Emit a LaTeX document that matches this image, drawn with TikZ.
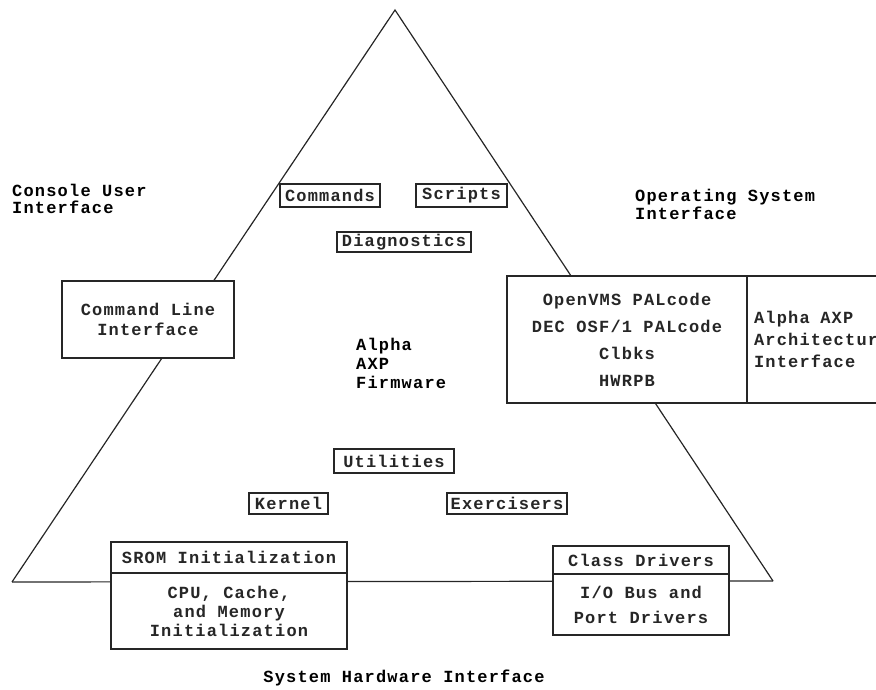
\documentclass[tikz,border=0pt]{standalone}
\usepackage{fontspec}
\setmainfont{Liberation Mono}[LetterSpace=7]
\begin{document}
\begin{tikzpicture}[x=1pt,y=-1pt,
  fnt/.style={font=\fontsize{17}{#1}\selectfont\bfseries},
  every node/.style={fnt=17},
  ln/.style={line width=1.2pt, black!85},
  box/.style={draw, ln, fill=white, inner sep=0pt, outer sep=0pt, align=center},
  tag/.style={box, minimum height=22pt},
  lbl/.style={inner sep=0pt, align=left, anchor=west}]
\useasboundingbox (0,0) rectangle (876,690);
% triangle
\coordinate (apex) at (395,10);
\coordinate (lc) at (12,582);
\coordinate (rc) at (773,581);
\draw[ln, line join=miter] (lc) -- (apex) -- (rc);
\draw[ln] (lc) -- (rc);
% outside labels
\node[lbl] (cui) at (12,199) {Console User\\Interface};
\node[lbl, fnt=18] (osi) at (635,204) {Operating System\\Interface};
\node[inner sep=0pt] (shi) at (404,678) {System Hardware Interface};
\node[lbl, fnt=19] (fw) at (356,363) {Alpha\\AXP\\Firmware};
% small tags
\node[tag, minimum width=100pt, minimum height=23pt] (cmd) at (330,195.5) {Commands};
\node[tag, minimum width=91pt, minimum height=23pt] (scr) at (461.5,195.5) {Scripts};
\node[tag, minimum width=134pt, minimum height=20pt] (diag) at (404,242) {Diagnostics};
\node[tag, minimum width=120pt, minimum height=24pt] (util) at (394,461) {Utilities};
\node[tag, minimum width=79pt, minimum height=21pt] (kern) at (288.5,503.5) {Kernel};
\node[tag, minimum width=120pt, minimum height=21pt] (exer) at (507,503.5) {Exercisers};
% command line box
\node[box, minimum width=172pt, minimum height=77pt, fnt=20] (cli) at (148,319.5) {Command Line\\Interface};
% PAL box
\node[box, anchor=west, minimum width=160pt, minimum height=127pt, text width=146pt, align=left, inner xsep=7pt, fnt=22] (axp) at (747,339.5) {Alpha\kern10.5pt AXP\\Architecture\\Interface};
\node[box, minimum width=240pt, minimum height=127pt, fnt=27] (pal) at (627,339.5) {OpenVMS PALcode\\DEC OSF/1 PALcode\\Clbks\\HWRPB};
% SROM box
\node[box, minimum width=236pt, minimum height=31pt] (srom) at (229,557.5) {SROM Initialization};
\node[box, minimum width=236pt, minimum height=76pt, fnt=19, anchor=north] (cpu) at (srom.south) {CPU, Cache,\\and Memory\\Initialization};
% class drivers box
\node[box, minimum width=176pt, minimum height=28pt] (cls) at (641,560) {Class Drivers};
\node[box, minimum width=176pt, minimum height=61pt, fnt=25, anchor=north] (io) at (cls.south) {I/O Bus and\\Port Drivers};
\end{tikzpicture}
\end{document}
